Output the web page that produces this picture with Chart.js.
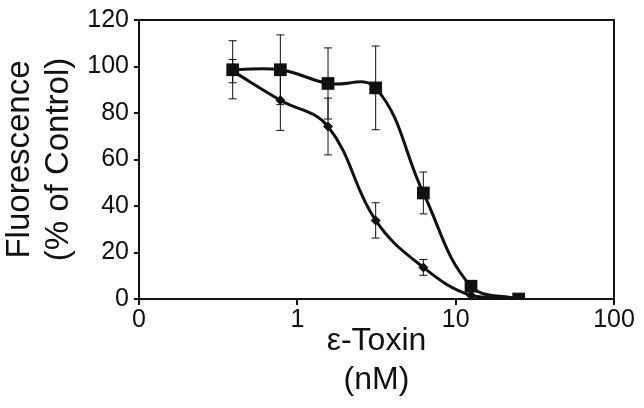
<!DOCTYPE html>
<html>
<head>
<meta charset="utf-8">
<script src="https://cdn.jsdelivr.net/npm/chart.js@4/dist/chart.umd.min.js"></script>
<style>
    body { margin: 0; background: #fff; }
    #wrap { width: 644px; height: 408px; }
</style>
</head>
<body>
<div id="wrap"><canvas id="toxinChart" width="644" height="408"></canvas></div>
<script>
// epsilon-toxin doses (nM), two-fold dilutions
const doses = [0.390625, 0.78125, 1.5625, 3.125, 6.25, 12.5, 25];

// square series
const squareMeans = [98.6, 98.6, 92.7, 90.8, 45.6, 5.5, 0];
const squareErr = [12.5, 15, 15.3, 18, 9, 1.5, 0];

// diamond series
const diamondMeans = [98, 85.5, 74.2, 33.8, 13.6, 1.5, 0];
const diamondErr = [5, 13, 12.2, 7.6, 3.4, 0, 0];

// axis ticks
const xTickValues = [0.1, 1, 10, 100];
const xTickLabels = ['0', '1', '10', '100'];
const yTickValues = [0, 20, 40, 60, 80, 100, 120];

const INK = '#111';

function toPoints(means) {
    return doses.map((d, i) => ({ x: d, y: means[i] }));
}

// Error bars drawn behind the lines, from the scales
const errorBarPlugin = {
    id: 'errorBars',
    beforeDatasetsDraw(chart) {
        const ctx = chart.ctx;
        const xs = chart.scales.x;
        const ys = chart.scales.y;
        ctx.save();
        ctx.strokeStyle = INK;
        ctx.lineWidth = 1;
        chart.data.datasets.forEach(ds => {
            ds.errors.forEach((err, i) => {
                if (!err) return;
                const px = xs.getPixelForValue(doses[i]);
                const top = ys.getPixelForValue(ds.data[i].y + err);
                const bot = ys.getPixelForValue(ds.data[i].y - err);
                ctx.beginPath();
                ctx.moveTo(px, top); ctx.lineTo(px, bot);
                ctx.moveTo(px - 4, top); ctx.lineTo(px + 4, top);
                ctx.moveTo(px - 4, bot); ctx.lineTo(px + 4, bot);
                ctx.stroke();
            });
        });
        ctx.restore();
    }
};

// Top and right edges of the plot box
const framePlugin = {
    id: 'frame',
    afterDraw(chart) {
        const a = chart.chartArea;
        const ctx = chart.ctx;
        ctx.save();
        ctx.strokeStyle = INK;
        ctx.lineWidth = 2;
        ctx.beginPath();
        ctx.moveTo(a.left, a.top);
        ctx.lineTo(a.right, a.top);
        ctx.lineTo(a.right, a.bottom);
        ctx.stroke();
        ctx.restore();
    }
};

new Chart(document.getElementById('toxinChart').getContext('2d'), {
    type: 'line',
    data: {
        datasets: [
            {
                label: 'Squares',
                data: toPoints(squareMeans),
                errors: squareErr,
                borderColor: INK,
                backgroundColor: INK,
                borderWidth: 3,
                pointStyle: 'rect',
                pointRadius: 9,
                pointBorderWidth: 0,
                tension: 0.4,
                fill: false
            },
            {
                label: 'Diamonds',
                data: toPoints(diamondMeans),
                errors: diamondErr,
                borderColor: INK,
                backgroundColor: INK,
                borderWidth: 3,
                pointStyle: 'rectRot',
                pointRadius: 5,
                pointBorderWidth: 0,
                tension: 0.4,
                fill: false
            }
        ]
    },
    options: {
        responsive: false,
        animation: false,
        layout: { padding: { left: 0, top: 15, right: 30, bottom: 0 } },
        plugins: {
            legend: { display: false },
            tooltip: { enabled: false }
        },
        scales: {
            x: {
                type: 'logarithmic',
                min: 0.1,
                max: 100,
                afterBuildTicks: axis => {
                    axis.ticks = xTickValues.map(v => ({ value: v }));
                },
                afterFit: axis => { axis.height = 109; },
                border: { display: true, color: INK, width: 2 },
                grid: { drawOnChartArea: false, drawTicks: true, tickLength: 6, color: INK, lineWidth: 2 },
                ticks: {
                    color: INK,
                    padding: 0,
                    maxRotation: 0,
                    autoSkip: false,
                    font: { family: 'Liberation Sans', size: 25 },
                    callback: function (value) {
                        const idx = xTickValues.indexOf(value);
                        return idx >= 0 ? xTickLabels[idx] : '';
                    }
                },
                title: {
                    display: true,
                    text: ['\u03b5-Toxin', '(nM)'],
                    color: INK,
                    padding: { top: 0, bottom: 9 },
                    font: { family: 'Liberation Sans', size: 32, lineHeight: 1.2 }
                }
            },
            y: {
                min: 0,
                max: 120,
                afterBuildTicks: axis => {
                    axis.ticks = yTickValues.map(v => ({ value: v }));
                },
                afterFit: axis => { axis.width = 139; },
                border: { display: true, color: INK, width: 2 },
                grid: { drawOnChartArea: false, drawTicks: true, tickLength: 5, color: INK, lineWidth: 2 },
                ticks: {
                    color: INK,
                    padding: 5,
                    font: { family: 'Liberation Sans', size: 25 }
                },
                title: {
                    display: true,
                    text: ['Fluorescence', '(% of Control)'],
                    color: INK,
                    padding: { top: 0, bottom: 0 },
                    font: { family: 'Liberation Sans', size: 33, lineHeight: 1.2 }
                }
            }
        }
    },
    plugins: [errorBarPlugin, framePlugin]
});
</script>
</body>
</html>
